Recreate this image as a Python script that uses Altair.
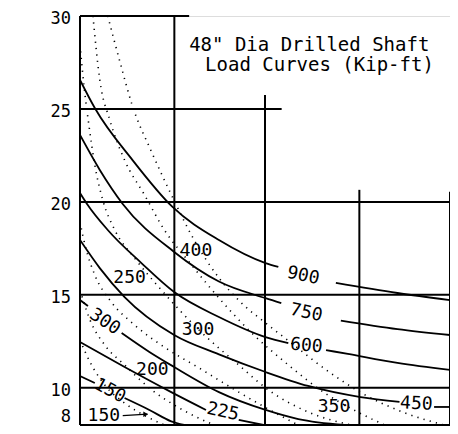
import altair as alt
import pandas as pd

FONT = "DejaVu Sans Mono"
X_DOMAIN = [0, 20]
Y_DOMAIN = [8, 30]
Y_TICKS = [10, 15, 20, 25, 30]
Y_TICK_BOTTOM = [8]
Y_LABEL_X = -0.49

TITLE_LINES = ['48" Dia Drilled Shaft', 'Load Curves (Kip-ft)']
TITLE_X = [5.9, 6.76]
TITLE_Y = [28.44, 27.36]

# grid segments: horizontal (y, x_from, x_to), vertical (x, y_from, y_to)
H_RULES = [(30, 0, 5.9), (25, 0, 10.9), (20, 0, 20), (15, 0, 20), (10, 0, 20), (8, 0, 20)]
V_RULES = [(0, 8, 30), (5.1, 8, 30), (10.0, 8, 25.75), (15.1, 8, 20.65), (20, 8, 20.55)]

# solid load curves (segments broken where the inline label sits)
SOLID_900 = [[(0, 26.56), (0.8, 25.05), (2.84, 22.25), (5.0, 19.73), (7.51, 17.95), (10.03, 16.71), (10.72, 16.50)],
             [(13.83, 15.64), (17.16, 15.10), (20, 14.72)]]
SOLID_750 = [[(0, 23.60), (1.07, 21.72), (2.31, 19.89), (5.09, 17.31), (7.51, 15.72), (10.03, 14.82), (10.88, 14.55)],
             [(14.10, 13.62), (17.16, 13.16), (20, 12.84)]]
SOLID_600 = [[(0, 20.48), (0.38, 19.89), (1.50, 18.49), (3.32, 16.71), (5.09, 15.15), (7.51, 13.81), (10.03, 12.73), (11.26, 12.41)],
             [(13.30, 12.03), (14.48, 11.82), (17.16, 11.34), (20, 10.96)]]
SOLID_450 = [[(0, 17.95), (1.07, 16.44), (2.41, 14.88), (5.09, 12.84), (7.51, 11.80), (10.03, 10.85), (12.33, 10.10), (15.17, 9.50), (17.27, 9.24)],
             [(19.14, 8.97), (20, 8.97)]]
SOLID_300 = [[(0, 14.72), (0.43, 14.40)],
             [(2.25, 12.95), (3.75, 11.93), (5.09, 11.12), (7.51, 9.77), (10.03, 8.81), (11.80, 8.32), (14.32, 8.0)]]
SOLID_225 = [[(0, 12.46), (2.41, 11.12), (4.93, 9.77), (6.81, 8.81)],
             [(8.58, 8.27), (9.92, 8.0)]]
SOLID_150 = [[(0, 10.63), (0.80, 10.26)],
             [(2.41, 9.45), (3.75, 8.81), (4.93, 8.20), (5.63, 8.0)]]

# dotted load curves
DOT_400 = [(1.50, 30.0), (2.25, 27.2), (2.79, 25.3), (3.91, 22.6), (4.93, 20.4), (6.17, 17.95), (7.51, 15.91),
           (8.85, 14.45), (10.03, 13.49), (11.42, 12.41), (13.40, 10.9), (15.17, 9.75), (17.43, 8.7), (19.68, 8.0)]
DOT_350 = [(0.70, 30.0), (1.07, 26.56), (1.61, 24.41), (2.41, 22.25), (3.49, 20.37), (4.56, 18.49), (5.90, 16.77),
           (7.51, 14.83), (9.12, 13.11), (11.26, 11.23), (13.40, 9.61), (15.01, 8.70), (16.46, 8.0)]
DOT_300 = [(0, 28.44), (0.21, 26.29), (0.48, 24.14), (0.80, 21.99), (1.23, 20.10), (1.88, 18.49), (2.95, 16.98),
           (4.40, 15.26), (6.43, 13.11), (8.58, 11.23), (10.19, 9.88), (12.33, 8.70), (14.64, 8.0)]
DOT_250 = [(0, 18.92), (0.27, 17.68), (0.80, 16.07), (1.61, 14.72), (2.95, 13.38), (4.56, 12.19), (6.43, 11.07),
           (8.58, 9.77), (10.46, 8.70), (11.80, 8.0)]
DOT_200 = [(0, 15.26), (0.54, 13.65), (1.34, 12.30), (2.41, 11.23), (3.75, 9.99), (5.36, 8.92), (7.24, 8.0)]
DOT_150 = [(0, 12.57), (0.54, 11.39), (1.34, 10.15), (2.41, 9.18), (3.65, 8.43), (4.56, 8.0)]

# curve labels: (text, x, y, angle)
LABELS = [("900", 12.06, 16.01, 12), ("750", 12.23, 14.02, 12), ("600", 12.23, 12.25, 5),
          ("450", 18.18, 9.13, 3), ("225", 7.72, 8.70, 12), ("150", 1.61, 9.83, 28),
          ("300", 1.34, 13.54, 33), ("400", 6.27, 17.36, 0), ("250", 2.68, 15.91, 0),
          ("300", 6.38, 13.11, 0), ("200", 3.91, 10.96, 0), ("150", 1.29, 8.50, 0),
          ("350", 13.73, 8.97, 0)]
ARROW = [(2.31, 8.50), (3.65, 8.58)]

# ---------- build tables ----------
solid_rows = []
for name, segs in [("900", SOLID_900), ("750", SOLID_750), ("600", SOLID_600), ("450", SOLID_450),
                   ("300", SOLID_300), ("225", SOLID_225), ("150", SOLID_150)]:
    for si, seg in enumerate(segs):
        for i, (x, y) in enumerate(seg):
            solid_rows.append({"key": f"{name}_{si}", "i": i, "x": x, "y": y})
solid_df = pd.DataFrame(solid_rows)

dot_rows = []
for name, pts in [("400", DOT_400), ("350", DOT_350), ("300", DOT_300), ("250", DOT_250),
                  ("200", DOT_200), ("150", DOT_150)]:
    for i, (x, y) in enumerate(pts):
        dot_rows.append({"key": name, "i": i, "x": x, "y": y})
dot_df = pd.DataFrame(dot_rows)

h_df = pd.DataFrame(H_RULES, columns=["y", "x0", "x1"])
v_df = pd.DataFrame(V_RULES, columns=["x", "y0", "y1"])
lab_df = pd.DataFrame(LABELS, columns=["t", "x", "y", "a"])
title_df = pd.DataFrame({"t": TITLE_LINES, "x": TITLE_X, "y": TITLE_Y})
arrow_df = pd.DataFrame({"x": [ARROW[0][0]], "x2": [ARROW[1][0]], "y": [ARROW[0][1]], "y2": [ARROW[1][1]]})
head_df = pd.DataFrame({"x": [ARROW[1][0] - 0.1], "y": [ARROW[1][1]]})
ytick_df = pd.DataFrame({"v": Y_TICKS, "x": [Y_LABEL_X] * len(Y_TICKS)})
ytick_b_df = pd.DataFrame({"v": Y_TICK_BOTTOM, "x": [Y_LABEL_X] * len(Y_TICK_BOTTOM)})

xs = alt.Scale(domain=X_DOMAIN, nice=False, zero=False)
ys = alt.Scale(domain=Y_DOMAIN, nice=False, zero=False)


def X(f):
    return alt.X(f, scale=xs, axis=None)


def Y(f):
    return alt.Y(f, scale=ys, axis=None)


h_layer = alt.Chart(h_df).mark_rule(color="black", strokeWidth=2).encode(
    x=X("x0:Q"), x2="x1:Q", y=Y("y:Q"))
v_layer = alt.Chart(v_df).mark_rule(color="black", strokeWidth=2).encode(
    x=X("x:Q"), y=Y("y0:Q"), y2="y1:Q")
solid_layer = alt.Chart(solid_df).mark_line(color="black", strokeWidth=1.8, interpolate="monotone", clip=True).encode(
    x=X("x:Q"), y=Y("y:Q"), detail="key:N", order="i:Q")
dot_layer = alt.Chart(dot_df).mark_line(color="black", strokeWidth=1.6, strokeDash=[1.2, 5.2],
                                        interpolate="monotone", clip=True).encode(
    x=X("x:Q"), y=Y("y:Q"), detail="key:N", order="i:Q")
lab_layer = alt.Chart(lab_df).mark_text(font=FONT, fontSize=18, color="black", align="center",
                                        baseline="middle").encode(
    x=X("x:Q"), y=Y("y:Q"), text="t:N", angle=alt.Angle("a:Q", scale=None))
title_layer = alt.Chart(title_df).mark_text(font=FONT, fontSize=19, color="black", align="left",
                                            baseline="middle").encode(
    x=X("x:Q"), y=Y("y:Q"), text="t:N")
arrow_layer = alt.Chart(arrow_df).mark_rule(color="black", strokeWidth=1.2).encode(
    x=X("x:Q"), x2="x2:Q", y=Y("y:Q"), y2="y2:Q")
head_layer = alt.Chart(head_df).mark_point(shape="triangle-right", filled=True, color="black", size=30,
                                           opacity=1).encode(
    x=X("x:Q"), y=Y("y:Q"))
ytick_layer = alt.Chart(ytick_df).mark_text(font=FONT, fontSize=17, color="black", align="right",
                                            baseline="middle", dy=3).encode(
    x=X("x:Q"), y=Y("v:Q"), text="v:Q")
ytick_b_layer = alt.Chart(ytick_b_df).mark_text(font=FONT, fontSize=17, color="black", align="right",
                                                baseline="bottom", dy=1).encode(
    x=X("x:Q"), y=Y("v:Q"), text="v:Q")

chart = alt.layer(h_layer, v_layer, dot_layer, solid_layer, lab_layer, title_layer, arrow_layer, head_layer,
                  ytick_layer, ytick_b_layer).properties(
    width=370, height=409,
    autosize=alt.AutoSizeParams(type="none"),
    padding={"left": 72, "top": 8, "right": 0, "bottom": 1},
).configure_view(strokeWidth=0).configure(background="white")

chart.save("out.html", embed_options={"renderer": "svg", "actions": False})
